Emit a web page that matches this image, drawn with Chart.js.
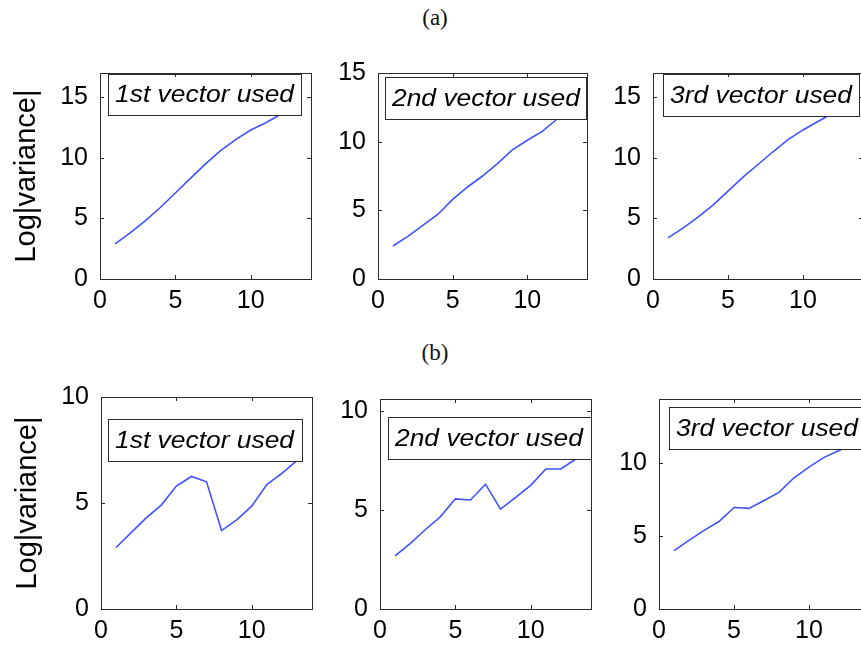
<!DOCTYPE html>
<html>
<head>
<meta charset="utf-8">
<title>Log|variance| per step</title>
<script src="https://cdn.jsdelivr.net/npm/chart.js@4/dist/chart.umd.min.js"></script>
<style>
  html, body { margin: 0; padding: 0; background: #fff; }
  #page { position: relative; width: 861px; height: 649px; overflow: hidden; background: #fff; }
  #page canvas { position: absolute; }
  .cap { position: absolute; width: 60px; margin-left: -30px; text-align: center;
         font-family: "Liberation Serif", "Times New Roman", serif; font-size: 23px; color: #111; line-height: 26px; }
</style>
</head>
<body>
<div id="page">
  <div class="cap" style="left:435px; top:5px">(a)</div>
  <div class="cap" style="left:435px; top:340px">(b)</div>
</div>
<script>
// step index along the horizontal axis
const steps = [1, 2, 3, 4, 5, 6, 7, 8, 9, 10, 11, 12, 13];
const xTickValues = [0, 5, 10];
const yTickValues = [0, 5, 10, 15];

// (a) Log|variance| per step
const a1st = [2.9, 3.8, 4.8, 5.9, 7.1, 8.3, 9.5, 10.6, 11.5, 12.3, 12.9, 13.6];
const a2nd = [2.4, 3.1, 3.9, 4.7, 5.8, 6.7, 7.5, 8.4, 9.4, 10.1, 10.75, 11.65];
const a3rd = [3.4, 4.2, 5.1, 6.1, 7.25, 8.4, 9.45, 10.5, 11.5, 12.3, 13.0, 13.7];

// (b) Log|variance| per step
const b1st = [2.9, 3.6, 4.3, 4.9, 5.8, 6.25, 6.0, 3.7, 4.2, 4.85, 5.87, 6.4, 7.0];
const b2nd = [2.68, 3.3, 4.0, 4.65, 5.56, 5.5, 6.3, 5.04, 5.63, 6.24, 7.07, 7.07, 7.57];
const b3rd = [4.0, 4.7, 5.39, 6.0, 6.96, 6.9, 7.44, 8.0, 9.0, 9.73, 10.4, 10.87, 11.25];

const legendLabels = ['1st vector used', '2nd vector used', '3rd vector used'];
const yTitle = 'Log|variance|';

const FONT = '"Liberation Sans", Arial, Helvetica, sans-serif';
const LINE_BLUE = 'rgb(64, 82, 255)';
const FRAME = '#2b2b2b';

// Each panel: plot-area rectangle in page pixels, y limit, legend box (relative to plot area)
const panels = [
  { values: a1st, label: legendLabels[0], yMax: 17,   area: [100, 73, 311, 279], title: true,  box: [8, 1, 193, 41] },
  { values: a2nd, label: legendLabels[1], yMax: 15,   area: [378, 73, 587, 279], title: false, box: [7, 4, 201, 42] },
  { values: a3rd, label: legendLabels[2], yMax: 17,   area: [653, 73, 863, 279], title: false, box: [10, 1, 196, 42] },
  { values: b1st, label: legendLabels[0], yMax: 10,   area: [101, 397, 312, 609], title: true,  box: [7, 22, 194, 42] },
  { values: b2nd, label: legendLabels[1], yMax: 10.6, area: [380, 399, 591, 609], title: false, box: [8, 18, 203, 42] },
  { values: b3rd, label: legendLabels[2], yMax: 14.4, area: [659, 399, 869, 609], title: false, box: [10, 8, 196, 42] }
];

// Boxed axes with inward ticks on all four sides, plus an opaque legend box
const boxedAxes = {
  id: 'boxedAxes',
  afterDatasetsDraw(chart, args, opts) {
    const { ctx, chartArea: a, scales: { x, y } } = chart;
    ctx.save();

    const [dx, dy, bw, bh] = opts.box;
    const bx = a.left + dx, by = a.top + dy;
    ctx.fillStyle = '#fff';
    ctx.fillRect(bx, by, bw, bh);
    ctx.strokeStyle = FRAME;
    ctx.lineWidth = 1;
    ctx.strokeRect(bx + 0.5, by + 0.5, bw, bh);

    ctx.save();
    ctx.fillStyle = '#000';
    ctx.font = 'italic 24px ' + FONT;
    ctx.textBaseline = 'middle';
    ctx.translate(bx + 7, by + bh / 2 + 1);
    ctx.scale(1.1, 1);
    ctx.fillText(opts.label, 0, 0);
    ctx.restore();

    ctx.strokeStyle = FRAME;
    ctx.lineWidth = 1;
    ctx.strokeRect(a.left + 0.5, a.top + 0.5, a.width, a.height);

    const len = 4;
    ctx.beginPath();
    x.ticks.forEach(t => {
      const px = Math.round(x.getPixelForValue(t.value)) + 0.5;
      ctx.moveTo(px, a.bottom); ctx.lineTo(px, a.bottom - len);
      ctx.moveTo(px, a.top); ctx.lineTo(px, a.top + len);
    });
    y.ticks.forEach(t => {
      const py = Math.round(y.getPixelForValue(t.value)) + 0.5;
      ctx.moveTo(a.left, py); ctx.lineTo(a.left + len, py);
      ctx.moveTo(a.right, py); ctx.lineTo(a.right - len, py);
    });
    ctx.stroke();
    ctx.restore();
  }
};

const page = document.getElementById('page');

panels.forEach(p => {
  const [l, t, r, b] = p.area;
  // top/right margins leave room for the half-height of end tick labels
  const padL = p.title ? 100 : 70, padT = 32, padR = 20, padB = 48;
  const canvas = document.createElement('canvas');
  canvas.width = (r - l) + padL + padR;
  canvas.height = (b - t) + padT + padB;
  canvas.style.left = (l - padL) + 'px';
  canvas.style.top = (t - padT) + 'px';
  page.appendChild(canvas);

  const points = p.values.map((v, i) => ({ x: steps[i], y: v }));
  const yTicks = yTickValues.filter(v => v <= p.yMax);

  new Chart(canvas, {
    type: 'line',
    data: {
      datasets: [{
        data: points,
        borderColor: LINE_BLUE,
        borderWidth: 1.6,
        pointRadius: 0,
        tension: 0,
        fill: false
      }]
    },
    options: {
      responsive: false,
      animation: false,
      devicePixelRatio: 1,
      layout: { padding: { left: 0, top: padT, right: padR, bottom: 0 } },
      plugins: {
        legend: { display: false },
        tooltip: { enabled: false },
        boxedAxes: { box: p.box, label: p.label }
      },
      scales: {
        x: {
          type: 'linear',
          min: 0,
          max: 14,
          afterBuildTicks: s => { s.ticks = xTickValues.map(v => ({ value: v })); },
          afterFit: s => { s.height = padB; },
          grid: { display: false, drawTicks: false },
          border: { display: false },
          ticks: { color: '#000', padding: 7, maxRotation: 0, autoSkip: false,
                   font: { family: FONT, size: 25 } }
        },
        y: {
          type: 'linear',
          min: 0,
          max: p.yMax,
          afterBuildTicks: s => { s.ticks = yTicks.map(v => ({ value: v })); },
          afterFit: s => { s.width = padL; },
          grid: { display: false, drawTicks: false },
          border: { display: false },
          ticks: { color: '#000', padding: 12, autoSkip: false,
                   font: { family: FONT, size: 25 } },
          title: {
            display: p.title,
            text: yTitle,
            color: '#000',
            padding: { top: 10, bottom: 0 },
            font: { family: FONT, size: 29 }
          }
        }
      }
    },
    plugins: [boxedAxes]
  });
});
</script>
</body>
</html>
